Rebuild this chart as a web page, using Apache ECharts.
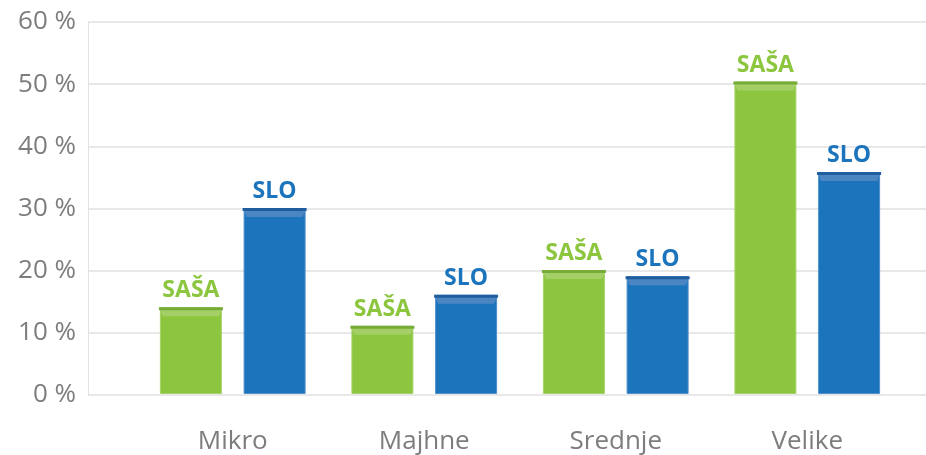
<!DOCTYPE html>
<html>
<head>
<meta charset="utf-8">
<script src="https://cdn.jsdelivr.net/npm/echarts@6/dist/echarts.min.js"></script>
<style>
  html, body { margin: 0; padding: 0; background: #fff; }
  #chart { width: 926px; height: 455px; }
</style>
</head>
<body>
<div id="chart"></div>
<script>
// podatki
var categories = ["Mikro", "Majhne", "Srednje", "Velike"];
var sasaValues = [14, 11, 20, 50.4];
var sloValues = [30, 16, 19, 35.8];
var seriesNames = ["SAŠA", "SLO"];
var yTicks = [0, 10, 20, 30, 40, 50, 60];

var chart = echarts.init(document.getElementById("chart"));

var green = "#8cc63f";
var blue = "#1c75bc";

function barSeries(name, data, color, border) {
  return {
    name: name,
    type: "bar",
    xAxisIndex: 1,
    yAxisIndex: 1,
    barWidth: 62,
    barGap: "35%",
    data: data,
    itemStyle: { color: color, borderColor: border, borderWidth: 1 },
    label: {
      show: true,
      position: "top",
      distance: 5,
      formatter: name,
      color: color,
      fontFamily: "Open Sans",
      fontWeight: "bold",
      fontSize: 23
    },
    z: 2
  };
}

// temna črta na vrhu (os 1)
function capLine(data, dark) {
  return {
    type: "pictorialBar",
    xAxisIndex: 1,
    yAxisIndex: 1,
    barWidth: 62,
    barGap: "35%",
    symbol: "rect",
    symbolSize: [64, 3],
    symbolPosition: "end",
    itemStyle: { color: dark },
    data: data,
    z: 4
  };
}

// svetel pas pod črto (os 2, da se ne mešata)
function capBand(data, light) {
  return {
    type: "pictorialBar",
    xAxisIndex: 2,
    yAxisIndex: 1,
    barWidth: 62,
    barGap: "35%",
    symbol: "path://M0,0 L62,0 L59,7 L3,7 Z",
    symbolSize: [62, 7],
    symbolPosition: "end",
    symbolOffset: [0, 2],
    itemStyle: { color: light },
    data: data,
    z: 3
  };
}

var option = {
  backgroundColor: "#fff",
  animation: false,
  grid: [
    { left: 88, right: 0, top: 22, bottom: 60 },
    { left: 137, right: 23, top: 22, bottom: 60 }
  ],
  xAxis: [
    { gridIndex: 0, type: "value", show: false, min: 0, max: 1 },
    {
      gridIndex: 1,
      type: "category",
      data: categories,
      axisLine: { show: false },
      axisTick: { show: false },
      axisLabel: {
        margin: 35,
        color: "#7d7d80",
        fontFamily: "Open Sans",
        fontSize: 26
      }
    },
    { gridIndex: 1, type: "category", data: categories, show: false }
  ],
  yAxis: [
    {
      gridIndex: 0,
      type: "value",
      min: yTicks[0],
      max: yTicks[yTicks.length - 1],
      interval: 10,
      axisLine: { show: true, lineStyle: { color: "#e3e3e3", width: 1 } },
      axisTick: { show: false },
      axisLabel: {
        margin: 12,
        color: "#7d7d80",
        fontFamily: "Open Sans",
        fontSize: 26,
        formatter: "{value} %"
      },
      splitLine: { lineStyle: { color: "#e8e8e8", width: 2 } }
    },
    {
      gridIndex: 1,
      type: "value",
      min: yTicks[0],
      max: yTicks[yTicks.length - 1],
      interval: 10,
      show: false,
      splitLine: { show: false }
    }
  ],
  series: [
    barSeries(seriesNames[0], sasaValues, green, "#a5d36b"),
    barSeries(seriesNames[1], sloValues, blue, "#4f8fcc"),
    capLine(sasaValues, "#76ab38"),
    capLine(sloValues, "#1f5d9e"),
    capBand(sasaValues, "#a3cf66"),
    capBand(sloValues, "#4c86c2")
  ]
};

chart.setOption(option);
</script>
</body>
</html>
